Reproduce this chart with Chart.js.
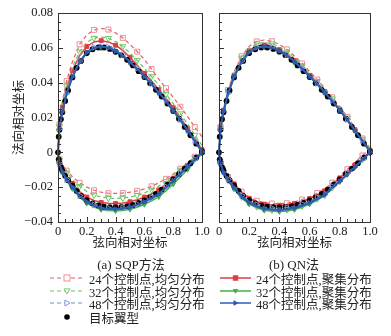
<!DOCTYPE html>
<html>
<head>
<meta charset="utf-8">
<script src="https://cdn.jsdelivr.net/npm/chart.js@4.4.0/dist/chart.umd.min.js"></script>
<style>
  body { margin: 0; background: #fff; width: 391px; height: 336px; position: relative; overflow: hidden;
         font-family: "Liberation Serif", "Noto Sans CJK SC", serif; color: #222; }
  canvas { position: absolute; top: 0; }
  #chartA { left: 0; }
  #chartB { left: 206px; }
  .sub { position: absolute; top: 254px; font-size: 13px; white-space: nowrap; transform: translateX(-50%); }
  .row { position: absolute; display: flex; align-items: center; font-size: 12.5px; white-space: nowrap; height: 14px; }
  .row svg { margin-right: 5px; }
</style>
</head>
<body>
<canvas id="chartA" width="210" height="256"></canvas>
<canvas id="chartB" width="180" height="256"></canvas>
<div class="sub" style="left:131px">(a) SQP方法</div>
<div class="sub" style="left:294px">(b) QN法</div>
<div id="legend"></div>
<script>
// chordwise stations used by the designed airfoils
const stations = [0, 0.01, 0.03, 0.06, 0.1, 0.15, 0.2, 0.25, 0.3, 0.35, 0.4, 0.45, 0.5, 0.55, 0.6, 0.65, 0.7, 0.75, 0.8, 0.85, 0.9, 0.95, 1.0];

// target airfoil (目标翼型)
const targetX = [0, 0.005, 0.01, 0.02, 0.03, 0.05, 0.07, 0.1, 0.13, 0.16, 0.2, 0.24, 0.28, 0.32, 0.36, 0.4, 0.44, 0.48, 0.52, 0.56, 0.6, 0.64, 0.68, 0.72, 0.76, 0.8, 0.84, 0.88, 0.92, 0.96, 1.0];
const targetUpper = [0, 0.009, 0.013, 0.019, 0.023, 0.0295, 0.0355, 0.043, 0.0485, 0.0525, 0.057, 0.0592, 0.0602, 0.0602, 0.0594, 0.0578, 0.0558, 0.0531, 0.0499, 0.0466, 0.0432, 0.0397, 0.0359, 0.032, 0.028, 0.0238, 0.0193, 0.0146, 0.0098, 0.005, 0.0005];
const targetLower = [0, -0.004, -0.006, -0.0085, -0.0105, -0.0135, -0.016, -0.019, -0.0222, -0.025, -0.0275, -0.0293, -0.0305, -0.0312, -0.0315, -0.0316, -0.0314, -0.0309, -0.0302, -0.029, -0.0276, -0.0258, -0.0238, -0.0214, -0.0185, -0.0155, -0.0124, -0.0093, -0.0062, -0.0031, 0];

// (a) SQP
const sqp24uUpper = [0, 0.016, 0.029, 0.041, 0.052, 0.062, 0.0675, 0.0703, 0.0712, 0.0705, 0.0686, 0.0657, 0.062, 0.0578, 0.0533, 0.0478, 0.042, 0.0368, 0.0316, 0.0262, 0.0205, 0.0145, 0.009];
const sqp24uLower = [0, -0.004, -0.007, -0.0105, -0.014, -0.0175, -0.02, -0.0218, -0.0229, -0.0235, -0.0236, -0.0234, -0.0229, -0.0221, -0.021, -0.0195, -0.0175, -0.0152, -0.0125, -0.0094, -0.006, -0.0025, 0.0005];
const sqp24cUpper = [0, 0.015, 0.026, 0.037, 0.047, 0.0555, 0.0608, 0.0634, 0.0641, 0.0634, 0.0615, 0.0586, 0.0545, 0.05, 0.0453, 0.0408, 0.036, 0.0309, 0.0256, 0.0199, 0.0139, 0.0078, 0.0015];
const sqp24cLower = [0, -0.005, -0.0095, -0.0138, -0.0178, -0.0225, -0.0257, -0.0276, -0.0288, -0.0293, -0.0294, -0.0291, -0.0284, -0.0272, -0.0257, -0.0238, -0.0216, -0.0183, -0.0148, -0.0112, -0.0075, -0.0037, 0];
const sqp32uUpper = [0, 0.015, 0.027, 0.038, 0.049, 0.0578, 0.0632, 0.0656, 0.0662, 0.0655, 0.0636, 0.0608, 0.057, 0.0528, 0.0483, 0.0436, 0.0386, 0.0334, 0.028, 0.0222, 0.0162, 0.01, 0.004];
const sqp32uLower = [0, -0.0045, -0.008, -0.0118, -0.0155, -0.0195, -0.0225, -0.0245, -0.0257, -0.0263, -0.0265, -0.0263, -0.0257, -0.0247, -0.0233, -0.0215, -0.0194, -0.0167, -0.0135, -0.0101, -0.0066, -0.003, 0.0005];
const sqp32cUpper = [0, 0.013, 0.0235, 0.0335, 0.0432, 0.0515, 0.0568, 0.0592, 0.0598, 0.0592, 0.0575, 0.0549, 0.0513, 0.0474, 0.0431, 0.0386, 0.0339, 0.0289, 0.0237, 0.0181, 0.0122, 0.0062, 0];
const sqp32cLower = [0, -0.0065, -0.0115, -0.0165, -0.0208, -0.0258, -0.0292, -0.0314, -0.0328, -0.0334, -0.0336, -0.0334, -0.0327, -0.0315, -0.0299, -0.0279, -0.0255, -0.022, -0.0182, -0.0141, -0.0098, -0.0052, -0.0005];
const sqp48uUpper = [0, 0.0135, 0.0238, 0.0338, 0.0438, 0.0523, 0.0578, 0.0603, 0.0611, 0.0604, 0.0586, 0.056, 0.0523, 0.0483, 0.044, 0.0395, 0.0347, 0.0297, 0.0245, 0.0188, 0.0128, 0.0067, 0.0008];
const sqp48uLower = [0, -0.0063, -0.011, -0.0156, -0.0197, -0.0248, -0.0281, -0.0302, -0.0316, -0.0321, -0.0322, -0.0319, -0.0311, -0.0298, -0.0282, -0.026, -0.0236, -0.0198, -0.016, -0.0121, -0.0081, -0.004, 0];
const sqp48cUpper = [0, 0.0132, 0.0234, 0.0334, 0.0434, 0.0519, 0.0574, 0.0599, 0.0607, 0.06, 0.0582, 0.0556, 0.0519, 0.0479, 0.0436, 0.0391, 0.0343, 0.0293, 0.0241, 0.0184, 0.0125, 0.0064, 0.0005];
const sqp48cLower = [0, -0.0065, -0.0112, -0.0158, -0.02, -0.0252, -0.0285, -0.0306, -0.0319, -0.0325, -0.0326, -0.0323, -0.0315, -0.0302, -0.0285, -0.0263, -0.0239, -0.0201, -0.0163, -0.0124, -0.0083, -0.0042, 0];

// (b) QN
const qn24uUpper = [0, 0.0145, 0.0255, 0.0358, 0.0462, 0.0552, 0.061, 0.0637, 0.0645, 0.0638, 0.0619, 0.0591, 0.0553, 0.051, 0.0465, 0.0418, 0.0368, 0.0316, 0.0262, 0.0203, 0.0142, 0.008, 0.0025];
const qn24uLower = [0, -0.0055, -0.0098, -0.014, -0.0178, -0.0226, -0.0258, -0.0278, -0.0289, -0.0294, -0.0295, -0.0292, -0.0284, -0.0271, -0.0255, -0.0234, -0.021, -0.0174, -0.0135, -0.0097, -0.0058, -0.0018, 0.002];
const qn24cUpper = [0, 0.0138, 0.0242, 0.0343, 0.0443, 0.0528, 0.0584, 0.0609, 0.0616, 0.0609, 0.059, 0.0563, 0.0526, 0.0485, 0.0442, 0.0397, 0.0349, 0.0299, 0.0247, 0.019, 0.013, 0.0069, 0.0012];
const qn24cLower = [0, -0.0055, -0.0098, -0.0142, -0.0181, -0.0231, -0.0264, -0.0285, -0.0298, -0.0303, -0.0304, -0.0301, -0.0294, -0.0281, -0.0266, -0.0245, -0.0221, -0.0184, -0.0147, -0.011, -0.0072, -0.0034, 0.0003];
const qn32uUpper = [0, 0.0142, 0.025, 0.0352, 0.0455, 0.0542, 0.0598, 0.0624, 0.0631, 0.0624, 0.0605, 0.0578, 0.054, 0.0498, 0.0454, 0.0408, 0.0359, 0.0308, 0.0255, 0.0197, 0.0137, 0.0076, 0.002];
const qn32uLower = [0, -0.0065, -0.0112, -0.016, -0.0203, -0.0256, -0.029, -0.0312, -0.0325, -0.0331, -0.0332, -0.0329, -0.0321, -0.0307, -0.029, -0.0267, -0.0242, -0.0203, -0.0164, -0.0124, -0.0083, -0.0041, 0];
const qn32cUpper = [0, 0.0132, 0.0233, 0.0333, 0.0432, 0.0517, 0.0572, 0.0597, 0.0605, 0.0598, 0.058, 0.0554, 0.0517, 0.0477, 0.0434, 0.039, 0.0342, 0.0292, 0.024, 0.0183, 0.0124, 0.0064, 0.0005];
const qn32cLower = [0, -0.0068, -0.0117, -0.0166, -0.021, -0.0263, -0.0297, -0.0319, -0.0333, -0.0339, -0.034, -0.0337, -0.0329, -0.0315, -0.0297, -0.0274, -0.0248, -0.0208, -0.0169, -0.0128, -0.0086, -0.0043, -0.0003];
const qn48uUpper = [0, 0.0136, 0.0239, 0.0339, 0.0439, 0.0524, 0.0579, 0.0604, 0.0612, 0.0605, 0.0587, 0.0561, 0.0524, 0.0484, 0.0441, 0.0396, 0.0348, 0.0298, 0.0246, 0.0189, 0.0129, 0.0068, 0.001];
const qn48uLower = [0, -0.0062, -0.0108, -0.0155, -0.0196, -0.0247, -0.028, -0.0301, -0.0315, -0.032, -0.0321, -0.0318, -0.031, -0.0297, -0.0281, -0.0259, -0.0235, -0.0197, -0.0159, -0.012, -0.008, -0.004, 0];
const qn48cUpper = [0, 0.0133, 0.0235, 0.0335, 0.0435, 0.052, 0.0575, 0.06, 0.0608, 0.0601, 0.0583, 0.0557, 0.052, 0.048, 0.0437, 0.0392, 0.0344, 0.0294, 0.0242, 0.0185, 0.0126, 0.0065, 0.0005];
const qn48cLower = [0, -0.0066, -0.0114, -0.0161, -0.0203, -0.0256, -0.0289, -0.0311, -0.0324, -0.033, -0.0331, -0.0328, -0.032, -0.0307, -0.029, -0.0268, -0.0243, -0.0204, -0.0166, -0.0126, -0.0085, -0.0043, 0];

const xTicks = [0, 0.2, 0.4, 0.6, 0.8, 1.0];
const yTicks = [-0.04, -0.02, 0, 0.02, 0.04, 0.06, 0.08];

const legendLabels = ['24个控制点,均匀分布', '32个控制点,均匀分布', '48个控制点,均匀分布',
                      '24个控制点,聚集分布', '32个控制点,聚集分布', '48个控制点,聚集分布', '目标翼型'];

const RED = '#e23b42', RED_D = '#ea5c64', RED_O = '#ef8d94';
const GREEN = '#3fb24a', GREEN_D = '#6cc35e', GREEN_O = '#74c66b';
const BLUE = '#2f5cb0', BLUE_D = '#6d8fd0', BLUE_O = '#7f9ad6';

// upper surface from TE to LE, then lower surface back to TE
function loop(xs, up, lo) {
  const pts = [];
  for (let i = xs.length - 1; i >= 0; i--) pts.push({ x: xs[i], y: up[i], k: i });
  for (let i = 1; i < xs.length; i++) pts.push({ x: xs[i], y: lo[i], k: i });
  return pts;
}

function uniform(up, lo, color, mark, style, rot) {
  return {
    data: loop(stations, up, lo), showLine: true, borderColor: color, borderWidth: 1.2, borderDash: [4, 3],
    pointStyle: style, rotation: rot, pointBorderColor: mark, pointBackgroundColor: 'rgba(255,255,255,0)',
    pointBorderWidth: 1, pointRadius: c => (c.raw && c.raw.k % 2 === 1) ? 3.5 : 0, clip: 4
  };
}
function clustered(up, lo, color, style, rot, width) {
  return {
    data: loop(stations, up, lo), showLine: true, borderColor: color, borderWidth: width || 1.5,
    pointStyle: style, rotation: rot, pointBorderColor: color, pointBackgroundColor: color,
    pointBorderWidth: 1, pointRadius: c => (c.raw && c.raw.k % 2 === 0 && c.raw.k > 0) ? 2.8 : 0, clip: 4
  };
}
function target() {
  return {
    data: loop(targetX, targetUpper, targetLower), showLine: false, pointStyle: 'circle',
    pointRadius: 2.9, pointBackgroundColor: '#000', pointBorderColor: '#000', pointBorderWidth: 0, clip: 4
  };
}

const framePlugin = {
  id: 'frame',
  afterDatasetsDraw(chart) {
    const { ctx, chartArea: a, scales: { x, y } } = chart;
    ctx.save();
    ctx.strokeStyle = '#333';
    ctx.lineWidth = 1;
    ctx.strokeRect(Math.round(a.left) + 0.5, Math.round(a.top) + 0.5, Math.round(a.right - a.left), Math.round(a.bottom - a.top));
    ctx.beginPath();
    for (let i = 0; i <= 24; i++) {
      const py = Math.round(y.getPixelForValue(-0.04 + i * 0.005)) + 0.5;
      const len = i % 4 === 0 ? 5 : 3;
      ctx.moveTo(a.left, py); ctx.lineTo(a.left + len, py);
    }
    for (let i = 0; i <= 20; i++) {
      const px = Math.round(x.getPixelForValue(i * 0.05)) + 0.5;
      const len = i % 4 === 0 ? 5 : 3;
      ctx.moveTo(px, a.bottom); ctx.lineTo(px, a.bottom - len);
    }
    ctx.stroke();
    ctx.restore();
  }
};

const tickFont = { family: '"Liberation Serif", serif', size: 12.5 };
const cjkFont = { family: '"Liberation Serif", "Noto Sans CJK SC", serif', size: 12.5 };

function fmtY(v) {
  if (Math.abs(v) < 1e-9) return '0';
  return (v < 0 ? '\u2212' : '') + Math.abs(v).toFixed(2);
}
function fmtX(v) {
  if (Math.abs(v) < 1e-9) return '0';
  return v.toFixed(1);
}

function makeChart(id, datasets, showY, yWidth, padRight) {
  return new Chart(document.getElementById(id), {
    type: 'scatter',
    data: { datasets },
    options: {
      responsive: false, animation: false, devicePixelRatio: 1,
      layout: { padding: { top: 13, right: padRight, bottom: 0, left: 0 } },
      plugins: { legend: { display: false }, tooltip: { enabled: false } },
      elements: { line: { tension: 0 } },
      scales: {
        x: {
          type: 'linear', min: 0, max: 1,
          afterBuildTicks: s => { s.ticks = xTicks.map(v => ({ value: v })); },
          ticks: { callback: fmtX, maxRotation: 0, autoSkip: false, padding: 2, color: '#222', font: tickFont },
          grid: { display: false, drawTicks: false }, border: { display: false },
          title: { display: true, text: '弦向相对坐标', color: '#222', font: cjkFont, padding: { top: 0, bottom: 5 } },
          afterFit: s => { s.height = 34; s.paddingLeft = 0; s.paddingRight = 0; }
        },
        y: {
          type: 'linear', min: -0.04, max: 0.08,
          afterBuildTicks: s => { s.ticks = yTicks.map(v => ({ value: v })); },
          ticks: { display: showY, callback: fmtY, padding: 5, color: '#222', font: tickFont },
          grid: { display: false, drawTicks: false }, border: { display: false },
          title: { display: showY, text: '法向相对坐标', color: '#222', font: cjkFont, padding: { top: 12, bottom: 0 } },
          afterFit: s => { s.width = yWidth; s.paddingTop = 0; s.paddingBottom = 0; }
        }
      }
    },
    plugins: [framePlugin]
  });
}

makeChart('chartA', [
  clustered(sqp48cUpper, sqp48cLower, BLUE, 'triangle', 90, 2),
  uniform(sqp48uUpper, sqp48uLower, BLUE_D, BLUE_O, 'triangle', 90),
  target(),
  clustered(sqp32cUpper, sqp32cLower, GREEN, 'triangle', 180),
  uniform(sqp32uUpper, sqp32uLower, GREEN_D, GREEN_O, 'triangle', 180),
  clustered(sqp24cUpper, sqp24cLower, RED, 'rect', 0),
  uniform(sqp24uUpper, sqp24uLower, RED_D, RED_O, 'rect', 0)
], true, 58, 8);

makeChart('chartB', [
  clustered(qn48cUpper, qn48cLower, BLUE, 'triangle', 90, 2),
  uniform(qn48uUpper, qn48uLower, BLUE_D, BLUE_O, 'triangle', 90),
  target(),
  clustered(qn32cUpper, qn32cLower, GREEN, 'triangle', 180),
  uniform(qn32uUpper, qn32uLower, GREEN_D, GREEN_O, 'triangle', 180),
  clustered(qn24cUpper, qn24cLower, RED, 'rect', 0),
  uniform(qn24uUpper, qn24uLower, RED_D, RED_O, 'rect', 0)
], false, 13, 16);

// legend
const legendMarks = [
  { line: RED_D, mark: RED_O, shape: 'sq', dash: true }, { line: GREEN_D, mark: GREEN_O, shape: 'dn', dash: true },
  { line: BLUE_D, mark: BLUE_O, shape: 'rt', dash: true }, { line: RED, mark: RED, shape: 'sq' },
  { line: GREEN, mark: GREEN, shape: 'dn' }, { line: BLUE, mark: BLUE, shape: 'rt' }, { shape: 'dot' }
];
const rowTops = [271, 284, 296, 310];
function shapeSvg(m, cx, open) {
  const fill = open ? '#fff' : m.mark;
  const r = open ? 3 : 2.2;
  if (m.shape === 'sq') return `<rect x="${cx - r}" y="${6 - r}" width="${2 * r}" height="${2 * r}" fill="${fill}" stroke="${m.mark}" stroke-width="1"/>`;
  if (m.shape === 'dn') return `<polygon points="${cx - r},${6 - r * 0.7} ${cx + r},${6 - r * 0.7} ${cx},${6 + r}" fill="${fill}" stroke="${m.mark}" stroke-width="1"/>`;
  return `<polygon points="${cx - r * 0.7},${6 - r} ${cx - r * 0.7},${6 + r} ${cx + r},6" fill="${fill}" stroke="${m.mark}" stroke-width="1"/>`;
}
let html = '';
legendLabels.forEach((lab, i) => {
  const m = legendMarks[i];
  let left, top, w, svg;
  if (m.shape === 'dot') {
    left = 50; top = rowTops[3]; w = 34;
    svg = `<circle cx="17" cy="6" r="2.8" fill="#000"/>`;
  } else if (m.dash) {
    left = 50; top = rowTops[i]; w = 34;
    svg = `<line x1="0" y1="6" x2="34" y2="6" stroke="${m.line}" stroke-width="1.2" stroke-dasharray="4,3"/>` + shapeSvg(m, 17, true);
  } else {
    left = 220; top = rowTops[i - 3]; w = 31;
    svg = `<line x1="0" y1="6" x2="31" y2="6" stroke="${m.line}" stroke-width="1.5"/>` + shapeSvg(m, 15.5, false);
  }
  html += `<div class="row" style="left:${left}px;top:${top}px"><svg width="${w}" height="12">${svg}</svg><span>${lab}</span></div>`;
});
document.getElementById('legend').innerHTML = html;
</script>
</body>
</html>
